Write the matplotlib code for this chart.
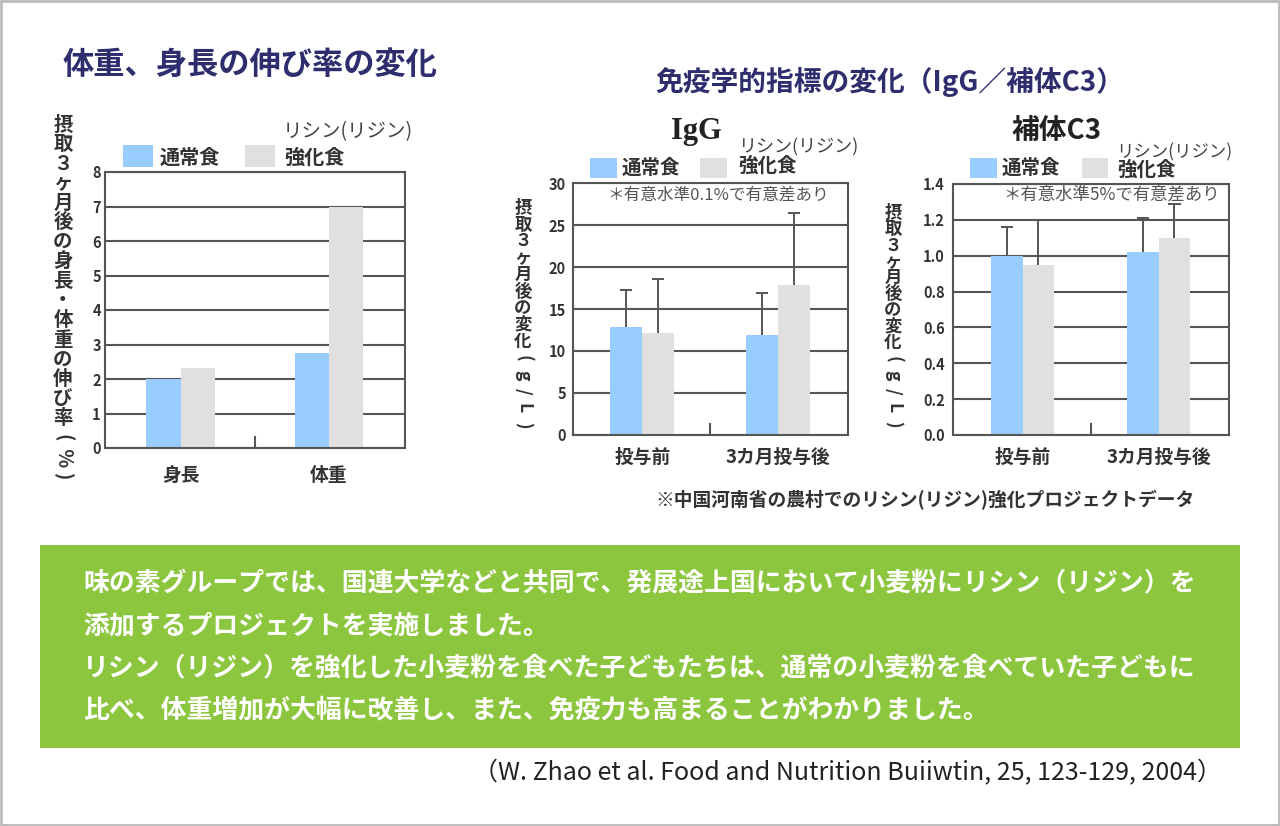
import numpy as np
import matplotlib
matplotlib.use("Agg")
from matplotlib import pyplot as plt
from matplotlib.patches import Rectangle

plt.rcParams['font.family'] = ['Noto Sans CJK JP', 'DejaVu Sans']

# data
growth_groups = ['身長', '体重']
growth_normal = [2.0, 2.76]
growth_lysine = [2.32, 7.0]
growth_ticks = [0, 1, 2, 3, 4, 5, 6, 7, 8]

immune_groups = ['投与前', '3カ月投与後']
igg_normal = [12.9, 11.9]
igg_lysine = [12.1, 17.9]
igg_normal_err = [4.4, 4.95]
igg_lysine_err = [6.45, 8.5]
igg_ticks = [0, 5, 10, 15, 20, 25, 30]

c3_normal = [1.0, 1.02]
c3_lysine = [0.95, 1.10]
c3_normal_err = [0.16, 0.19]
c3_lysine_err = [0.25, 0.19]
c3_ticks = [0.0, 0.2, 0.4, 0.6, 0.8, 1.0, 1.2, 1.4]

legend_normal = '通常食'
legend_lysine = '強化食'
legend_lysine_top = 'リシン(リジン)'

body_lines = [
    '味の素グループでは、国連大学などと共同で、発展途上国において小麦粉にリシン（リジン）を',
    '添加するプロジェクトを実施しました。',
    'リシン（リジン）を強化した小麦粉を食べた子どもたちは、通常の小麦粉を食べていた子どもに',
    '比べ、体重増加が大幅に改善し、また、免疫力も高まることがわかりました。',
]

W, H = 1280, 826
BLUE = '#99CCFF'
GREY = '#E0E0E0'
LINE = '#555555'
NAVY = '#2E2E6E'

fig = plt.figure(figsize=(W / 100, H / 100), dpi=100)
fig.patch.set_facecolor('white')


def ax_at(x0, y0, x1, y1):
    return fig.add_axes([x0 / W, 1 - y1 / H, (x1 - x0) / W, (y1 - y0) / H])


def t(x, y, s, **kw):
    kw.setdefault('ha', 'left')
    kw.setdefault('va', 'center')
    return fig.text(x / W, 1 - y / H, s, **kw)


def rect(x0, y0, x1, y1, color, **kw):
    fig.add_artist(Rectangle((x0 / W, 1 - y1 / H), (x1 - x0) / W, (y1 - y0) / H,
                             transform=fig.transFigure, facecolor=color,
                             edgecolor='none', **kw))


def vlabel(x, y0, y1, s, size):
    # vertical (tategaki) axis label, one glyph at a time
    ys = np.linspace(y0, y1, len(s))
    for ch, y in zip(s, ys):
        rot = -90 if ch in '()％g/L' else 0
        t(x, y, ch, ha='center', va='center', fontsize=size,
          fontweight='bold', color='#333333', rotation=rot,
          rotation_mode='anchor')


def bar_panel(ax, normal, lysine, ticks, labels, width, ylim, fmt,
              normal_err=None, lysine_err=None, ypad=3, xpad=10, tick_h=11):
    x = np.arange(len(normal))
    ax.bar(x - width / 2, normal, width, color=BLUE, zorder=2)
    ax.bar(x + width / 2, lysine, width, color=GREY, zorder=2)
    if normal_err is not None:
        for xs, ys, es in [(x - width / 2, normal, normal_err),
                           (x + width / 2, lysine, lysine_err)]:
            ys = np.array(ys)
            es = np.array(es)
            ax.vlines(xs, ys, ys + es, color=LINE, lw=1.4, zorder=3)
            ax.hlines(ys + es, xs - 0.045, xs + 0.045, color=LINE, lw=1.4, zorder=3)
    ax.set_xlim(-0.51, 1.515)
    ax.set_ylim(*ylim)
    ax.set_yticks(ticks)
    ax.set_yticklabels([fmt.format(v) for v in ticks], fontsize=10.5,
                       fontweight='bold', color='#333333')
    ax.set_xticks(x)
    ax.set_xticklabels(labels, fontsize=13.5, fontweight='bold', color='#333333')
    ax.tick_params(axis='y', length=0, pad=ypad)
    ax.tick_params(axis='x', length=0, pad=xpad)
    ax.yaxis.grid(True, color=LINE, lw=1.5)
    ax.set_axisbelow(True)
    for sp in ax.spines.values():
        sp.set_color(LINE)
        sp.set_linewidth(1.5)
    ax.axvline(0.5, 0, tick_h / (ax.get_position().height * H), color=LINE, lw=1.5)


# figure frame
fig.add_artist(Rectangle((0.001, 0.001), 0.998, 0.998, transform=fig.transFigure,
                         facecolor='none', edgecolor='#BBBBBB', lw=2))

# titles
t(63, 65, '体重、身長の伸び率の変化', fontsize=22.5, fontweight='bold', color=NAVY)
t(655, 82, '免疫学的指標の変化（IgG／補体C3）', fontsize=20, fontweight='bold', color=NAVY)

# panel 1: growth
ax1 = ax_at(105, 172, 405, 448)
bar_panel(ax1, growth_normal, growth_lysine, growth_ticks, growth_groups, 0.23,
          (0, 8), '{:d}', ypad=3, xpad=13)
vlabel(63, 125, 477, '摂取３ヶ月後の身長・体重の伸び率(％)', 14)
rect(123, 145, 153, 167, BLUE)
rect(245, 145, 275, 167, GREY)
t(160, 157, legend_normal, fontsize=14.5, fontweight='bold', color='#333333')
t(284, 157, legend_lysine, fontsize=14.5, fontweight='bold', color='#333333')
t(283, 132, legend_lysine_top, fontsize=14, color='#444444')

# panel 2: IgG
ax2 = ax_at(573, 183, 848, 435)
bar_panel(ax2, igg_normal, igg_lysine, igg_ticks, immune_groups, 0.235,
          (0, 30), '{:d}', igg_normal_err, igg_lysine_err, ypad=5, xpad=9)
vlabel(523, 208, 425, '摂取３ヶ月後の変化(g/L)', 12.5)
t(696, 131, 'IgG', fontsize=22, fontweight='bold', ha='center',
  family='Liberation Serif', color='#222222')
rect(590, 158, 617, 178, BLUE)
rect(700, 158, 727, 178, GREY)
t(622, 168, legend_normal, fontsize=14, fontweight='bold', color='#333333')
t(738, 166, legend_lysine, fontsize=14, fontweight='bold', color='#333333')
t(738, 147, legend_lysine_top, fontsize=13, color='#444444')
t(607, 195, '＊有意水準0.1%で有意差あり', fontsize=12, color='#555555')

# panel 3: complement C3
ax3 = ax_at(953, 184, 1229, 435)
bar_panel(ax3, c3_normal, c3_lysine, c3_ticks, immune_groups, 0.23,
          (0, 1.4), '{:.1f}', c3_normal_err, c3_lysine_err, ypad=6, xpad=9)
vlabel(893, 213, 424, '摂取３ヶ月後の変化(g/L)', 12.5)
t(1057, 131, '補体C3', fontsize=20, fontweight='bold', ha='center', color='#222222')
rect(970, 158, 997, 178, BLUE)
rect(1082, 158, 1108, 178, GREY)
t(1002, 168, legend_normal, fontsize=14, fontweight='bold', color='#333333')
t(1117, 170, legend_lysine, fontsize=14, fontweight='bold', color='#333333')
t(1116, 152, legend_lysine_top, fontsize=12.5, color='#444444')
t(1003, 195, '＊有意水準5%で有意差あり', fontsize=12.5, color='#555555')

# footnote under the immune panels
t(655, 500, '※中国河南省の農村でのリシン(リジン)強化プロジェクトデータ',
  fontsize=13.5, fontweight='bold', color='#333333')

# green message box
rect(40, 545, 1240, 748, '#8CC63E')
for i, line in enumerate(body_lines):
    t(83, 584 + i * 42, line, fontsize=18.6, fontweight='bold', color='white')

t(1222, 773, '（W. Zhao et al. Food and Nutrition Buiiwtin, 25, 123-129, 2004）',
  ha='right', fontsize=18, color='#222222')

fig.savefig('out.png', dpi=100, facecolor='white')
